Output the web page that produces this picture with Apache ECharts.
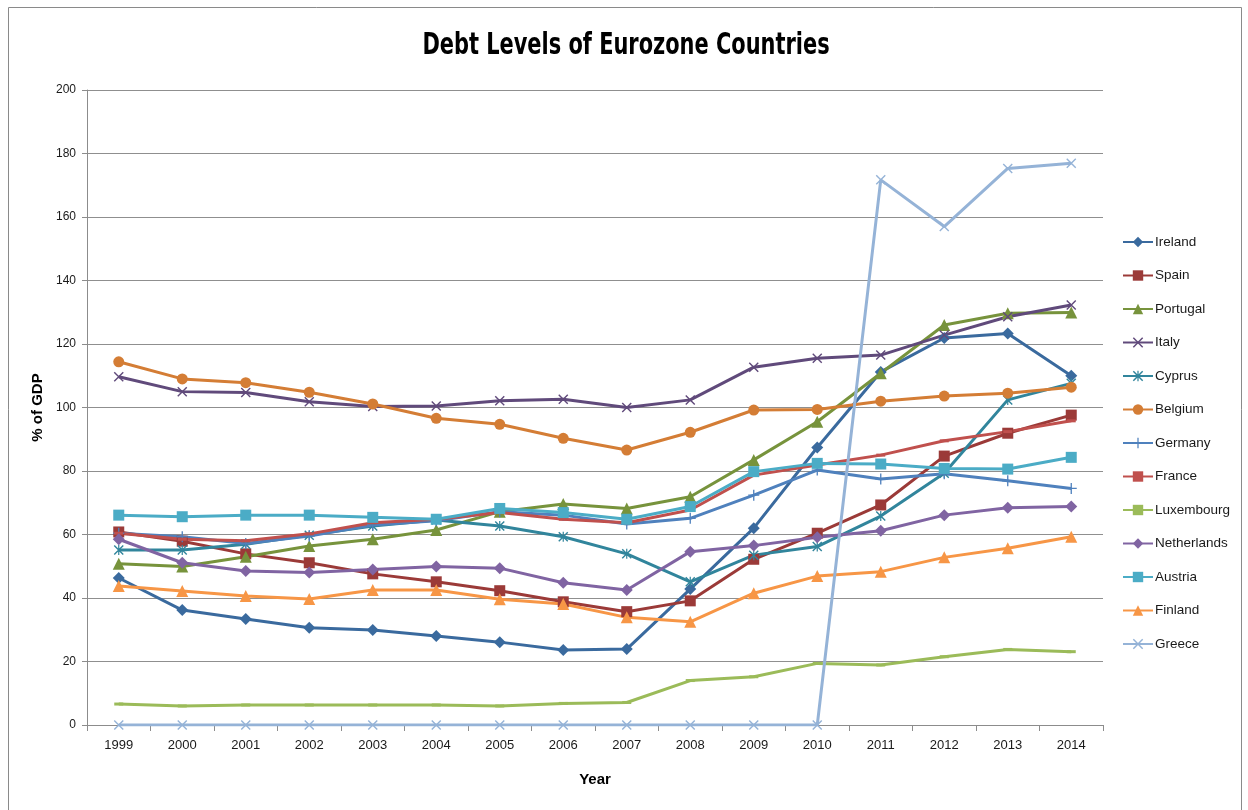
<!DOCTYPE html>
<html>
<head>
<meta charset="utf-8">
<title>Debt Levels of Eurozone Countries</title>
<script src="https://cdn.jsdelivr.net/npm/echarts@6/dist/echarts.min.js"></script>
<style>
  html, body { margin: 0; padding: 0; background: #ffffff; }
  #chart { width: 1248px; height: 810px; }
</style>
</head>
<body>
<div id="chart"></div>
<script>
// Government debt as % of GDP, 1999-2014
const years = ['1999','2000','2001','2002','2003','2004','2005','2006','2007','2008','2009','2010','2011','2012','2013','2014'];

const ireland     = [46.3, 36.2, 33.4, 30.6, 29.9, 28.0, 26.1, 23.6, 23.9, 42.8, 62.0, 87.4, 111.2, 121.9, 123.3, 110.0];
const spain       = [60.8, 57.9, 53.9, 51.1, 47.6, 45.1, 42.3, 38.8, 35.7, 39.1, 52.2, 60.4, 69.3, 84.7, 91.9, 97.6];
const portugal    = [50.8, 49.9, 53.0, 56.4, 58.5, 61.4, 67.2, 69.6, 68.2, 71.9, 83.5, 95.5, 110.8, 126.0, 129.7, 129.9];
const italy       = [109.7, 105.0, 104.7, 101.8, 100.3, 100.5, 102.1, 102.6, 100.0, 102.4, 112.7, 115.5, 116.5, 122.8, 128.6, 132.3];
const cyprus      = [55.1, 55.1, 56.9, 59.8, 62.7, 64.6, 62.7, 59.3, 53.9, 45.1, 53.5, 56.2, 65.8, 79.3, 102.4, 107.6];
const belgium     = [114.4, 109.0, 107.8, 104.8, 101.1, 96.6, 94.7, 90.3, 86.6, 92.2, 99.2, 99.4, 102.0, 103.6, 104.5, 106.4];
const germany     = [60.4, 59.3, 57.2, 59.5, 63.0, 64.3, 67.2, 66.1, 63.3, 65.1, 72.4, 80.3, 77.5, 79.1, 76.9, 74.5];
const france      = [60.4, 58.5, 58.0, 60.2, 63.7, 64.8, 66.9, 64.8, 63.7, 67.7, 78.7, 81.9, 85.0, 89.5, 92.4, 95.8];
const luxembourg  = [6.6, 6.0, 6.3, 6.3, 6.3, 6.3, 6.0, 6.8, 7.1, 14.0, 15.2, 19.4, 18.9, 21.5, 23.8, 23.1];
const netherlands = [58.5, 51.1, 48.5, 48.0, 49.0, 49.9, 49.4, 44.8, 42.5, 54.6, 56.5, 59.1, 61.2, 66.1, 68.4, 68.8];
const austria     = [66.1, 65.6, 66.1, 66.1, 65.4, 64.8, 68.2, 66.9, 64.8, 68.8, 79.8, 82.4, 82.2, 80.8, 80.6, 84.3];
const finland     = [43.8, 42.2, 40.6, 39.7, 42.5, 42.5, 39.6, 38.1, 33.9, 32.5, 41.5, 46.9, 48.3, 52.8, 55.7, 59.3];
const greece      = [0, 0, 0, 0, 0, 0, 0, 0, 0, 0, 0, 0, 171.7, 157.0, 175.3, 176.9];

const yTicks = { min: 0, max: 200, step: 20 };
const chartTitle = 'Debt Levels of Eurozone Countries';

// Marker shapes drawn as filled paths
const SYM_X    = 'path://M0,1 L1,0 L10,9 L9,10 Z M9,0 L10,1 L1,10 L0,9 Z';
const SYM_STAR = 'path://M0,1 L1,0 L10,9 L9,10 Z M9,0 L10,1 L1,10 L0,9 Z M4.4,0 L5.6,0 L5.6,10 L4.4,10 Z';
const SYM_PLUS = 'path://M4.4,0 L5.6,0 L5.6,10 L4.4,10 Z M0,4.4 L10,4.4 L10,5.6 L0,5.6 Z';
const SYM_DASH = 'path://M0,0 L10,0 L10,2 L0,2 Z';

const seriesDefs = [
  { name: 'Ireland',     data: ireland,     color: '#3A6A9E', symbol: 'diamond',  size: 12 },
  { name: 'Spain',       data: spain,       color: '#9B3A38', symbol: 'rect',     size: 11 },
  { name: 'Portugal',    data: portugal,    color: '#77933C', symbol: 'triangle', size: 12 },
  { name: 'Italy',       data: italy,       color: '#604A7B', symbol: SYM_X,      size: 10 },
  { name: 'Cyprus',      data: cyprus,      color: '#31859C', symbol: SYM_STAR,   size: 10 },
  { name: 'Belgium',     data: belgium,     color: '#D47D35', symbol: 'circle',   size: 11 },
  { name: 'Germany',     data: germany,     color: '#4F81BD', symbol: SYM_PLUS,   size: 11 },
  { name: 'France',      data: france,      color: '#C0504D', symbol: SYM_DASH,   size: [9, 3] },
  { name: 'Luxembourg',  data: luxembourg,  color: '#9BBB59', symbol: SYM_DASH,   size: [9, 3] },
  { name: 'Netherlands', data: netherlands, color: '#8064A2', symbol: 'diamond',  size: 12 },
  { name: 'Austria',     data: austria,     color: '#4BACC6', symbol: 'rect',     size: 11 },
  { name: 'Finland',     data: finland,     color: '#F79646', symbol: 'triangle', size: 12 },
  { name: 'Greece',      data: greece,      color: '#95B3D7', symbol: SYM_X,      size: 10 }
];

const chart = echarts.init(document.getElementById('chart'), null, { renderer: 'canvas' });

const labelFont = "'Liberation Sans', Arial, sans-serif";

chart.setOption({
  animation: false,
  backgroundColor: '#ffffff',
  color: seriesDefs.map(s => s.color),
  graphic: [
    {
      // outer frame
      type: 'rect',
      shape: { x: 8.5, y: 7.5, width: 1233, height: 820 },
      style: { fill: 'none', stroke: '#8a8a8a', lineWidth: 1 },
      silent: true
    },
    {
      // condensed bold title
      type: 'text',
      x: 626,
      y: 46,
      scaleX: 0.775,
      scaleY: 1,
      style: {
        text: chartTitle,
        fontFamily: "'DejaVu Sans Condensed', 'DejaVu Sans', sans-serif",
        fontWeight: 'bold',
        fontSize: 30,
        fill: '#000000',
        align: 'center',
        verticalAlign: 'middle'
      },
      silent: true
    }
  ],
  legend: {
    orient: 'vertical',
    left: 1117,
    top: 230,
    itemWidth: 30,
    itemHeight: 13,
    itemGap: 19.5,
    data: seriesDefs.map(s => s.name),
    textStyle: { fontFamily: labelFont, fontSize: 13.5, color: '#1a1a1a', padding: [0, 0, 0, -3] }
  },
  grid: { left: 87, right: 145, top: 90, bottom: 85, containLabel: false },
  xAxis: {
    type: 'category',
    data: years,
    boundaryGap: true,
    name: 'Year',
    nameLocation: 'middle',
    nameGap: 47,
    nameTextStyle: { fontFamily: labelFont, fontWeight: 'bold', fontSize: 15, color: '#000' },
    axisLine: { lineStyle: { color: '#8c8c8c', width: 1 } },
    axisTick: { show: true, length: 6, lineStyle: { color: '#8c8c8c' } },
    axisLabel: { fontFamily: labelFont, fontSize: 13, color: '#1a1a1a', margin: 14 },
    splitLine: { show: false }
  },
  yAxis: {
    type: 'value',
    min: yTicks.min,
    max: yTicks.max,
    interval: yTicks.step,
    name: '% of GDP',
    nameLocation: 'middle',
    nameGap: 40,
    nameRotate: 90,
    nameTextStyle: { fontFamily: labelFont, fontWeight: 'bold', fontSize: 15, color: '#000' },
    axisLine: { show: true, lineStyle: { color: '#8c8c8c', width: 1 } },
    axisTick: { show: true, length: 5, lineStyle: { color: '#8c8c8c' } },
    axisLabel: { fontFamily: labelFont, fontSize: 12, color: '#1a1a1a', margin: 11 },
    splitLine: { show: true, lineStyle: { color: '#8f8f8f', width: 1 } }
  },
  series: seriesDefs.map(s => ({
    name: s.name,
    type: 'line',
    data: s.data,
    symbol: s.symbol,
    symbolSize: s.size,
    symbolKeepAspect: false,
    showAllSymbol: true,
    lineStyle: { color: s.color, width: 3 },
    itemStyle: { color: s.color, borderWidth: 0 },
    emphasis: { disabled: true }
  }))
});
</script>
</body>
</html>
